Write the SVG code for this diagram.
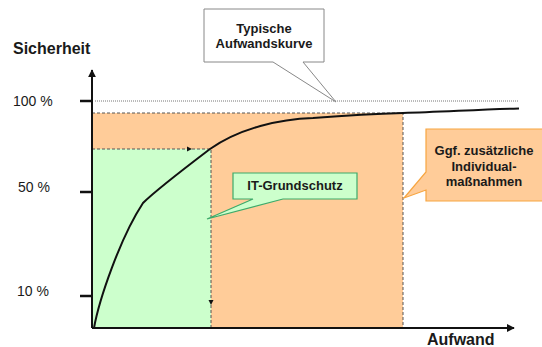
<svg xmlns="http://www.w3.org/2000/svg" width="542" height="347" viewBox="0 0 542 347">
  <style>
    text { font-family: "Liberation Sans", Arial, sans-serif; fill: #1a1a1a; }
    .bold { font-weight: bold; }
    .axis-label { font-size: 16px; font-weight: bold; }
    .pct { font-size: 14px; }
    .callout-text { font-size: 13px; font-weight: bold; text-anchor: middle; }
    .dash { fill: none; stroke: #555; stroke-width: 1; stroke-dasharray: 3 2; }
    .axis { stroke: #111; stroke-width: 2; fill: none; }
    .tick { stroke: #111; stroke-width: 2.5; }
  </style>
  <defs>
    <marker id="axisArrow" viewBox="0 0 10 10" refX="9" refY="5" markerWidth="4" markerHeight="4" orient="auto" markerUnits="strokeWidth">
      <path d="M0,0 L10,5 L0,10 Z" fill="#111"/>
    </marker>
  </defs>

  <!-- effort regions -->
  <g id="region-individual">
    <rect x="92" y="113" width="311" height="215" fill="#FFCC99"/>
    <path class="dash" d="M92,113 H403 V328"/>
  </g>
  <g id="region-grundschutz">
    <rect x="92" y="149" width="119" height="179" fill="#CCFFCC"/>
    <path class="dash" d="M92,149 H211 V328"/>
    <path d="M187,146.5 L192,149 L187,151.5 Z" fill="#111"/>
    <path d="M208.5,300 L213.5,300 L211,305 Z" fill="#111"/>
  </g>

  <!-- 100 % reference line -->
  <line x1="95" y1="101" x2="519" y2="101" stroke="#777" stroke-width="1" stroke-dasharray="1 1"/>

  <!-- axes -->
  <g id="axes">
    <line class="axis" x1="92" y1="328" x2="92" y2="70" marker-end="url(#axisArrow)"/>
    <line class="axis" x1="92" y1="328" x2="514" y2="328" marker-end="url(#axisArrow)"/>
    <line class="tick" x1="80" y1="101" x2="92" y2="101"/>
    <line class="tick" x1="80" y1="192" x2="92" y2="192"/>
    <line class="tick" x1="80" y1="296" x2="92" y2="296"/>
    <text class="axis-label" x="13" y="54">Sicherheit</text>
    <text class="axis-label" x="427" y="345">Aufwand</text>
    <text class="pct" x="13" y="106">100 %</text>
    <text class="pct" x="18" y="192">50 %</text>
    <text class="pct" x="17" y="296">10 %</text>
  </g>

  <!-- effort curve -->
  <g id="connectors">
    <path d="M94,328 C99,300 120,238 143,203 C155,191 185,168 210,149 C240,128 280,119 313,118 C350,115 380,113.5 403,113 C440,112 480,109.5 519,108.5" fill="none" stroke="#111" stroke-width="2"/>
  </g>

  <!-- callouts -->
  <g id="callout-kurve">
    <path d="M204,9 H324 V62 H303 L336,102 L273,62 H204 Z" fill="#fff" stroke="#888" stroke-width="1"/>
    <text class="callout-text" x="264" y="33">Typische</text>
    <text class="callout-text" x="264" y="48">Aufwandskurve</text>
  </g>
  <g id="callout-grundschutz">
    <path d="M233,173 H357 V199 H283 L207,219 L253,199 H233 Z" fill="#CCFFCC" stroke="#3DAA6A" stroke-width="1.2"/>
    <text class="callout-text" x="295" y="190">IT-Grundschutz</text>
  </g>
  <g id="callout-individual">
    <path d="M426,129 H548 V201 H426 V190 L404,198 L426,172 Z" fill="#FFCC99" stroke="#F7A541" stroke-width="1.2"/>
    <text class="callout-text" x="484" y="155">Ggf. zusätzliche</text>
    <text class="callout-text" x="484" y="171">Individual-</text>
    <text class="callout-text" x="484" y="186">maßnahmen</text>
  </g>
</svg>
